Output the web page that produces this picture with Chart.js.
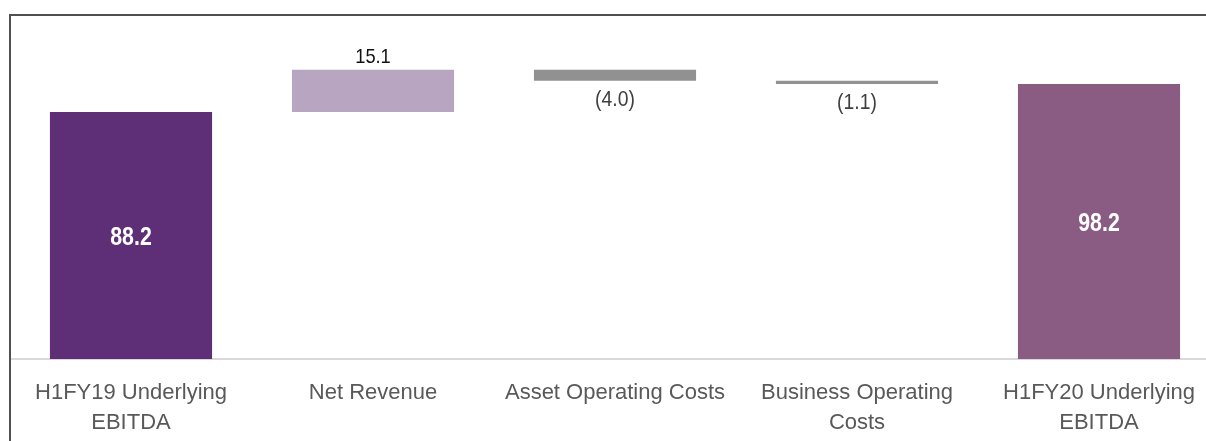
<!DOCTYPE html>
<html lang="en">
<head>
  <meta charset="UTF-8"/>
  <title>H1FY20 Underlying EBITDA bridge</title>
  <script src="https://cdn.jsdelivr.net/npm/chart.js"></script>
  <style>
    body {
      margin: 0;
      background: #ffffff;
      overflow: hidden;
    }
    .wrap {
      position: relative;
      width: 1230px;
      height: 441px;
    }
    /* slide frame, top + left edge */
    .frame {
      position: absolute;
      left: 9px;
      top: 14px;
      width: 1230px;
      height: 440px;
      border-top: 2px solid #505050;
      border-left: 2px solid #505050;
      pointer-events: none;
    }
  </style>
</head>
<body>
<div class="wrap">
  <canvas id="bridgeChart" width="1230" height="441"></canvas>
  <div class="frame"></div>
</div>

<script>
  const categories = [
    ['H1FY19 Underlying', 'EBITDA'],
    'Net Revenue',
    'Asset Operating Costs',
    ['Business Operating', 'Costs'],
    ['H1FY20 Underlying', 'EBITDA']
  ];
  const values = [88.2, 15.1, -4.0, -1.1, 98.2];
  const isTotal = [true, false, false, false, true];
  const valueLabels = ['88.2', '15.1', '(4.0)', '(1.1)', '98.2'];
  const barColors = ['#5e2f77', '#b7a5c2', '#919191', '#919191', '#8b5c83'];

  // floating ranges for the waterfall
  const ranges = [];
  let running = 0;
  values.forEach((v, i) => {
    if (isTotal[i]) {
      ranges.push([0, v]);
      running = v;
    } else {
      ranges.push([running, running + v]);
      running += v;
    }
  });

  const barLabels = {
    id: 'barLabels',
    afterDatasetsDraw(chart) {
      const ctx = chart.ctx;
      const bars = chart.getDatasetMeta(0).data;
      ctx.save();
      ctx.textAlign = 'center';
      ctx.textBaseline = 'middle';
      bars.forEach((bar, i) => {
        const top = Math.min(bar.y, bar.base);
        const bottom = Math.max(bar.y, bar.base);
        let x = bar.x, y, sx;
        if (isTotal[i]) {
          ctx.font = 'bold 26px "Liberation Sans", Arial, sans-serif';
          ctx.fillStyle = '#ffffff';
          y = (top + bottom) / 2 + 2;
          sx = 0.82;
        } else if (values[i] >= 0) {
          ctx.font = '21px "Liberation Sans", Arial, sans-serif';
          ctx.fillStyle = '#111111';
          y = top - 12.5;
          sx = 0.87;
        } else {
          ctx.font = '22px "Liberation Sans", Arial, sans-serif';
          ctx.fillStyle = '#404040';
          y = bottom + 19.5;
          sx = 0.88;
        }
        ctx.save();
        ctx.translate(x, y);
        ctx.scale(sx, 1);
        ctx.fillText(valueLabels[i], 0, 0);
        ctx.restore();
      });
      ctx.restore();
    }
  };

  new Chart(document.getElementById('bridgeChart'), {
    type: 'bar',
    data: {
      labels: categories,
      datasets: [{
        data: ranges,
        backgroundColor: barColors,
        borderWidth: 0,
        borderSkipped: false,
        categoryPercentage: 1,
        barPercentage: 0.67
      }]
    },
    options: {
      responsive: false,
      animation: false,
      layout: { padding: { left: 10, right: 10, top: 15, bottom: 0 } },
      plugins: {
        legend: { display: false },
        tooltip: { enabled: false }
      },
      scales: {
        x: {
          grid: { display: false, drawTicks: false },
          border: { display: true, color: '#d9d9d9', width: 2 },
          ticks: {
            color: '#595959',
            padding: 19,
            maxRotation: 0,
            autoSkip: false,
            font: { family: '"Liberation Sans", Arial, sans-serif', size: 22, lineHeight: 1.36 }
          },
          afterFit(scale) { scale.height = 82; }
        },
        y: {
          display: false,
          min: 0,
          max: 122.8
        }
      }
    },
    plugins: [barLabels]
  });
</script>
</body>
</html>
